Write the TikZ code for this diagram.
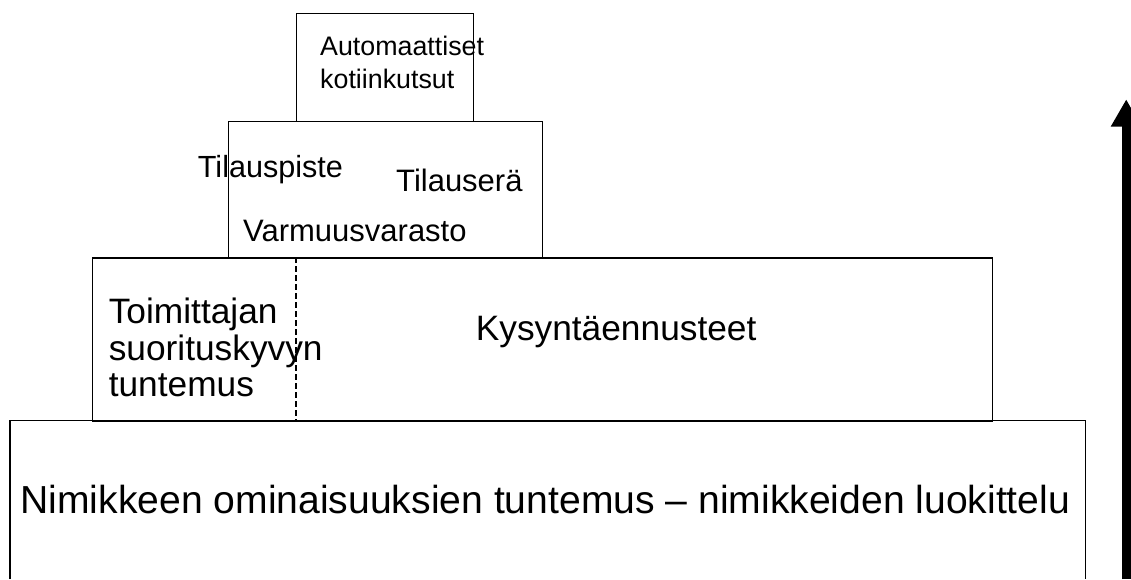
\documentclass[tikz,border=0pt]{standalone}
\usepackage{fontspec}
\setmainfont{Liberation Sans}
\usetikzlibrary{arrows.meta}
\begin{document}
\begin{tikzpicture}[x=1pt,y=-1pt,
  box/.style={draw=black,line width=1.4pt,fill=white,inner sep=0pt,anchor=north west},
  lbl/.style={inner sep=0pt,anchor=base west,align=left},
  divider/.style={line width=2.4pt,dash pattern=on 6pt off 3pt},
  bigarrow/.style={line width=9pt,-{Triangle[length=27.4pt,width=29pt]}}]
\useasboundingbox (0,0) rectangle (1131,579);
% boxes
\node[box,minimum width=177.2pt,minimum height=108pt,line width=1.6pt] (topbox) at (295.5,12.7) {};
\node[box,minimum width=314pt,minimum height=135.7pt] (orderbox) at (227.7,121) {};
\node[box,minimum width=899.5pt,minimum height=163.4pt] (knowbox) at (92,257.3) {};
\coordinate (bl) at (10,579);
\coordinate (br) at (1085.7,579);
\draw[line width=1.4pt] (bl) -- (10,420.7) -- (1085.7,420.7) -- (br);
% dashed divider
\coordinate (dtop) at (296,257.3);
\coordinate (dbot) at (296,420.7);
\draw[divider] (dtop) -- (dbot);
% texts (multi-line nodes are anchored at the baseline of their last line)
\node[lbl,font=\fontsize{26.8}{33}\selectfont] (t1) at (320,88) {Automaattiset\\kotiinkutsut};
\node[lbl,font=\fontsize{30.6}{36}\selectfont] (t2) at (197.7,177.3) {Tilauspiste};
\node[lbl,font=\fontsize{31}{36}\selectfont] (t3) at (396,191.7) {Tilauserä};
\node[lbl,font=\fontsize{31}{36}\selectfont] (t4) at (243,241.7) {Varmuusvarasto};
\node[lbl,font=\fontsize{35.3}{36.7}\selectfont] (t5) at (108.6,396.7) {Toimittajan\\suorituskyvyn\\tuntemus};
\node[lbl,font=\fontsize{35.3}{40}\selectfont] (t6) at (475.6,340) {Kysyntäennusteet};
\node[lbl,font=\fontsize{39.1}{44}\selectfont] (t7) at (20.3,513.3) {Nimikkeen ominaisuuksien tuntemus – nimikkeiden luokittelu};
% arrow
\coordinate (abot) at (1126.2,579);
\coordinate (atop) at (1126.2,99.3);
\draw[bigarrow] (abot) -- (atop);
\end{tikzpicture}
\end{document}
